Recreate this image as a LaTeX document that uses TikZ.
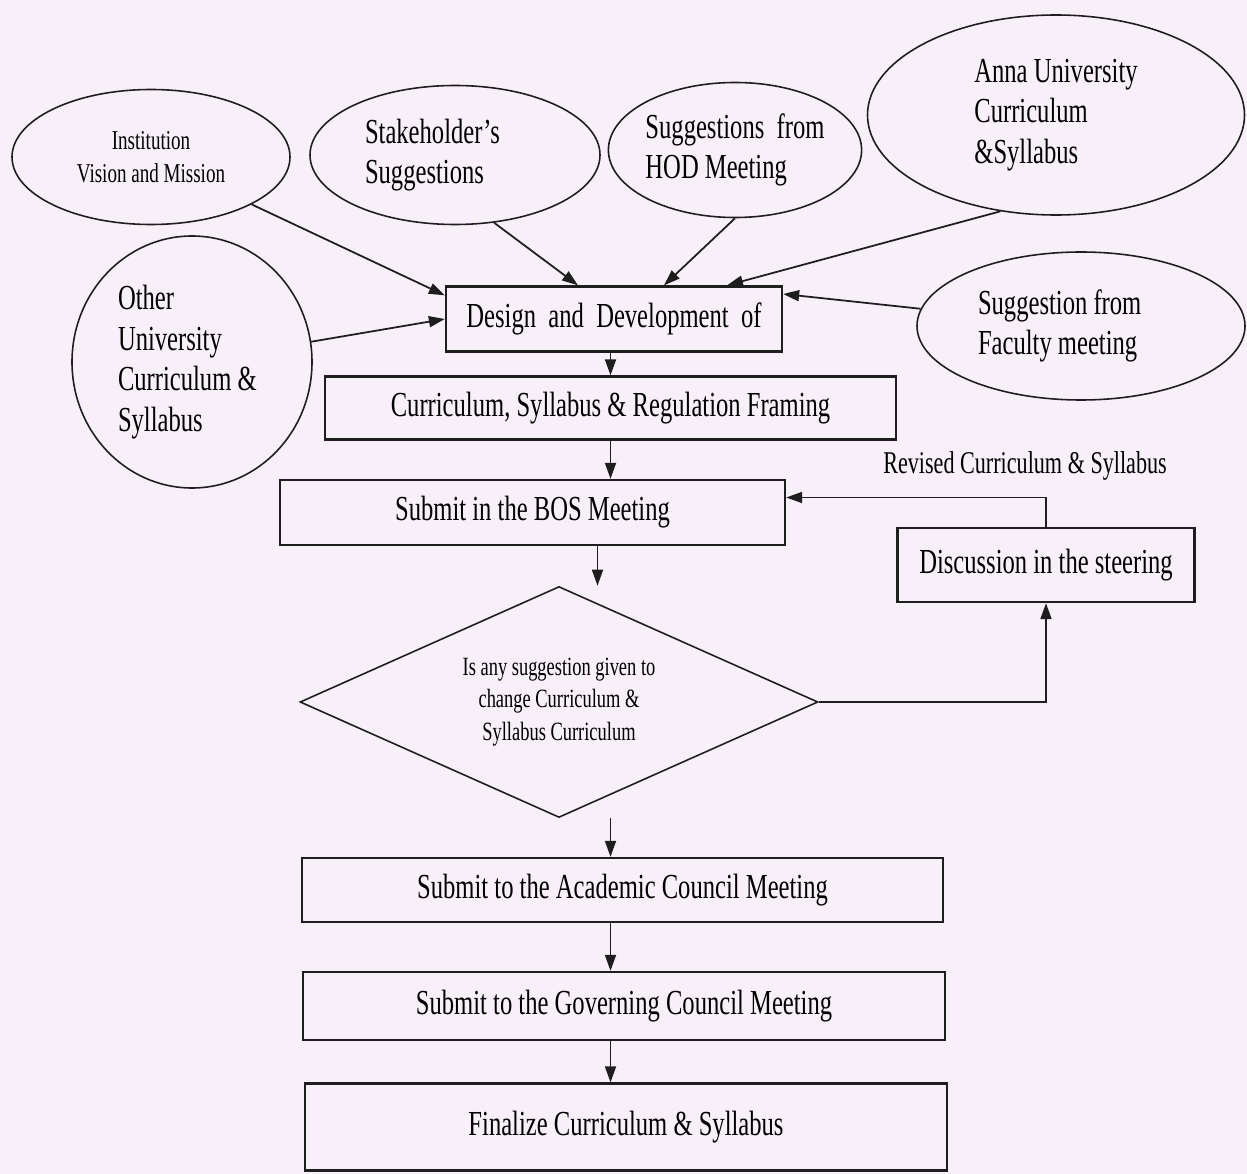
\documentclass[tikz,border=0pt]{standalone}
\usepackage{fontspec}
\setmainfont{Liberation Serif}[FakeStretch=0.7]
\usetikzlibrary{arrows.meta, shapes.geometric, positioning}
\definecolor{paper}{RGB}{248,240,248}
\definecolor{ink}{RGB}{30,30,30}

\tikzset{
  box/.style={draw=ink, line width=1.3pt, rectangle, inner sep=0pt, font=\fontsize{20}{23}\selectfont},
  src/.style={draw=ink, line width=0.9pt, ellipse, inner sep=0pt, font=\fontsize{20}{23}\selectfont},
  flow/.style={draw=ink, line width=1pt, -{Triangle[length=3.2mm,width=2.2mm]}},
}

\begin{document}
\begin{tikzpicture}
  % Paper
  \fill[paper] (0,0) rectangle (24.94,-23.48);

  % Input ellipses
  \node[src, minimum width=5.56cm, minimum height=2.7cm, align=center, font=\fontsize{15.5}{18.7}\selectfont] (inst) at (3.02,-3.14) {Institution\\Vision and Mission};
  \node[src, minimum width=5.8cm, minimum height=2.78cm, text width=3.6cm, align=flush left] (stake) at (9.10,-3.10) {Stakeholder's\\Suggestions};
  \node[src, minimum width=4.7cm, minimum height=2.7cm, align=flush left] (hod) at (14.70,-3.0) {Suggestions\ \ from\\HOD Meeting};
  \node[src, minimum width=7.54cm, minimum height=4cm, align=flush left] (anna) at (21.12,-2.3) {Anna University\\Curriculum\\\&Syllabus};
  \node[src, minimum width=6.56cm, minimum height=2.96cm, text width=4.12cm, align=flush left] (faculty) at (21.62,-6.52) {Suggestion from\\Faculty meeting};
  \node[src, minimum width=4.8cm, minimum height=5.04cm, text width=2.96cm, align=flush left] (other) at (3.84,-7.24) {Other\\University\\Curriculum \&\\Syllabus};

  % Main boxes
  \node[box, minimum width=6.72cm, minimum height=1.3cm] (design) at (12.28,-6.38) {Design\ \ and\ \ Development\ \ of};
  \node[box, minimum width=11.42cm, minimum height=1.26cm] (frame) at (12.21,-8.16) {Curriculum, Syllabus \& Regulation Framing};
  \node[box, minimum width=10.1cm, minimum height=1.3cm] (bos) at (10.65,-10.25) {Submit in the BOS Meeting};
  \node[box, minimum width=5.94cm, minimum height=1.48cm] (steer) at (20.92,-11.3) {Discussion in the steering};
  \node[diamond, draw=ink, line width=0.9pt, inner sep=0pt, aspect=2.24, minimum width=10.36cm, minimum height=4.62cm, align=center, font=\fontsize{15}{18.7}\selectfont] (dec) at (11.18,-14.04) {Is any suggestion given to\\change Curriculum \&\\Syllabus Curriculum};
  \node[box, minimum width=12.82cm, minimum height=1.28cm] (acad) at (12.45,-17.8) {Submit to the Academic Council Meeting};
  \node[box, minimum width=12.84cm, minimum height=1.36cm] (gov) at (12.48,-20.12) {Submit to the Governing Council Meeting};
  \node[box, minimum width=12.84cm, minimum height=1.74cm] (fin) at (12.52,-22.54) {Finalize Curriculum \& Syllabus};

  \node[font=\fontsize{18}{21}\selectfont] (revised) at (20.5,-9.32) {Revised Curriculum \& Syllabus};

  % Inputs into the design box
  \draw[flow] (inst) -- ([yshift=-0.2cm]design.north west);
  \draw[flow] (other) -- (design.west);
  \draw[flow] (stake.-60) -- ([xshift=-0.72cm]design.north);
  \draw[flow] (hod.south) -- ([xshift=1cm]design.north);
  \draw[flow] (anna.-120) -- ([xshift=2.26cm]design.north);
  \draw[flow] (faculty) -- ([yshift=0.5cm]design.east);

  % Main chain
  \draw[flow] (design.south -| frame) -- (frame.north);
  \draw[flow] (frame.south) -- (frame.south |- bos.north);
  \coordinate (bosout) at ([xshift=1.3cm]bos.south);
  \draw[flow] (bosout) -- (bosout |- dec.north);
  \draw[flow] (dec.south -| frame) -- (frame |- acad.north);
  \draw[flow] (acad.south -| frame) -- (frame |- gov.north);
  \draw[flow] (gov.south -| frame) -- (frame |- fin.north);

  % Loop back through the steering committee
  \draw[flow] (dec.east) -| (steer.south);
  \draw[flow] (steer.north) |- ([yshift=0.3cm]bos.east);
\end{tikzpicture}
\end{document}
